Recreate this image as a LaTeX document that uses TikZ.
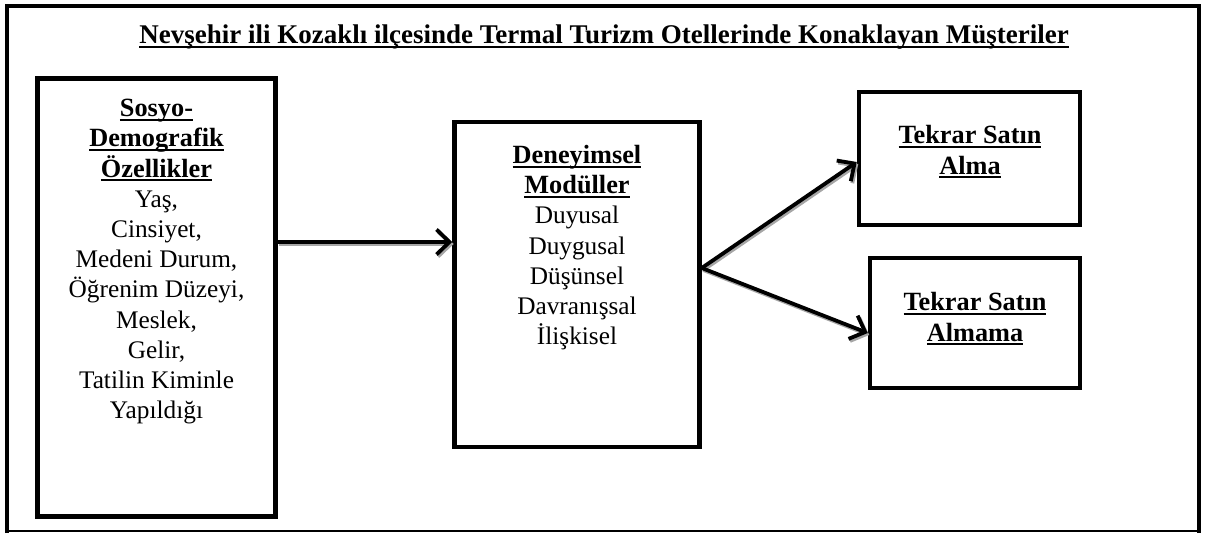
\documentclass[tikz,border=0pt]{standalone}
\usepackage{fontspec}
\setmainfont{Liberation Serif}
\usetikzlibrary{arrows.meta}
\newcommand\myul[1]{\leavevmode\setbox0\hbox{#1}\rlap{\rule[-4.2pt]{\wd0}{1.9pt}}\box0}
\newcommand\hd[1]{{\fontsize{26.3}{30.5}\selectfont\bfseries\myul{#1}}}
\begin{document}
\begin{tikzpicture}[x=1pt,y=-1pt,
  box/.style={draw,line width=4.5pt,inner sep=0pt},
  txt/.style={align=center,inner sep=0pt,font=\fontsize{25.3}{30.2}\selectfont},
  arr/.style={line width=3.8pt,-{Straight Barb[length=13pt,width=25pt,line width=3.8pt]}},
  shadowarr/.style={arr,draw=gray!70,transform canvas={shift={(1.5pt,-2pt)}}}]
\useasboundingbox (0,0) rectangle (1205,533);
% outer frame
\draw[line width=3.5pt] (7,533) -- (7,6) -- (1199,6) -- (1199,533);
\draw[line width=2pt] (7,531) -- (1199,531);
% title
\node[txt,font=\fontsize{27}{30.5}\selectfont\bfseries] (title) at (604,37) {\myul{Nevşehir ili Kozaklı ilçesinde Termal Turizm Otellerinde Konaklayan Müşteriler}};
% boxes
\node[box,minimum width=238pt,minimum height=438pt] (lbox) at (156.5,297.5) {};
\node[box,minimum width=245pt,minimum height=325pt] (mbox) at (577,284.5) {};
\node[box,minimum width=221pt,minimum height=133pt] (tbox) at (969.5,158.5) {};
\node[box,minimum width=210pt,minimum height=130pt] (bbox) at (975,323) {};
% texts
\node[txt,anchor=north] (ltxt) at (156.5,99) {\hd{Sosyo-}\\\hd{Demografik}\\\hd{Özellikler}\\Yaş,\\Cinsiyet,\\Medeni Durum,\\Öğrenim Düzeyi,\\Meslek,\\Gelir,\\Tatilin Kiminle\\Yapıldığı};
\node[txt,anchor=north] (mtxt) at (577,145) {\hd{Deneyimsel}\\\hd{Modüller}\\Duyusal\\Duygusal\\Düşünsel\\Davranışsal\\İlişkisel};
\node[txt] (ttxt) at (970,152) {\hd{Tekrar Satın}\\\hd{Alma}};
\node[txt] (btxt) at (975,319) {\hd{Tekrar Satın}\\\hd{Almama}};
% connector end points
\coordinate (a1s) at ([yshift=55.5pt]lbox.east);
\coordinate (a1e) at (mbox.west |- a1s);
\coordinate (ms) at ([yshift=16.5pt]mbox.east);
\coordinate (te) at ([yshift=-3.5pt]tbox.west);
\coordinate (be) at ([yshift=-10pt]bbox.west);
% shadows
\draw[shadowarr] (a1s) -- (a1e);
\draw[shadowarr] (ms) -- (te);
\draw[shadowarr] (ms) -- (be);
% arrows
\draw[arr] (a1s) -- (a1e);
\draw[arr] (ms) -- (te);
\draw[arr] (ms) -- (be);
\end{tikzpicture}
\end{document}
